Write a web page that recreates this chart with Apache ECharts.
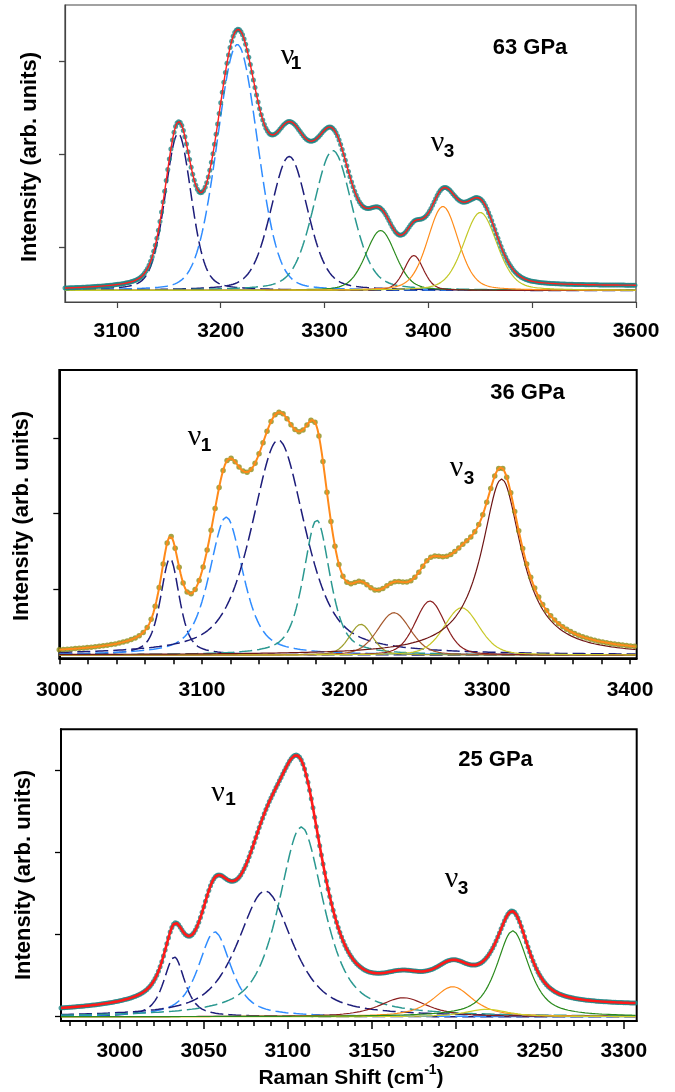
<!DOCTYPE html>
<html>
<head>
<meta charset="utf-8">
<script src="https://cdn.jsdelivr.net/npm/echarts@6/dist/echarts.min.js"></script>
<style>
  html, body { margin: 0; padding: 0; background: #ffffff; }
  #chart { width: 675px; height: 1092px; }
</style>
</head>
<body>
<div id="chart"></div>
<script>
// ---- Fitted Raman bands (peak centre cm-1, peak height in counts, FWHM cm-1, Lorentz fraction) ----
// 63 GPa
const p63Centers = [3159, 3216, 3266, 3308, 3354, 3386, 3414, 3450];
const p63Heights = [1688, 2645, 1441, 1505, 645, 376, 903, 839];
const p63Fwhm    = [30, 46, 42, 44, 34, 22, 35, 38];
const p63Eta     = [0.3, 0.15, 0.3, 0.3, 0.3, 0.3, 0.3, 0.3];
const p63Offset  = 540;          // flat offset under every band
const p63Slope   = [0, 43];      // extra sloping background of the total fit (start, end)
// 36 GPa
const p36Centers = [3077.6, 3117, 3153.5, 3180.4, 3211.4, 3234.6, 3259.8, 3282, 3310];
const p36Heights = [1284, 1833, 2855, 1793, 408, 562, 717, 628, 2337];
const p36Fwhm    = [15.7, 28, 44.5, 22, 19, 27, 24.5, 29, 34];
const p36Eta     = [0.6, 0.6, 0.6, 0.6, 0.3, 0.3, 0.3, 0.3, 1.0];
const p36Offset  = 123.5;
const p36Slope   = [0, 15];
// 25 GPa
const p25Centers = [3032.4, 3056.5, 3086.5, 3108, 3168.8, 3198.2, 3218.4, 3233.9];
const p25Heights = [729, 1033, 1531, 2309, 231, 365, 90, 1045];
const p25Fwhm    = [14.9, 23, 38.7, 32, 34, 28, 30, 22.8];
const p25Eta     = [0.7, 0.7, 0.7, 0.7, 0.7, 0.7, 0.7, 0.7];
const p25Offset  = 0;
const p25Slope   = [40, 120];

// ---- Axis ranges and tick labels ----
const p63XRange = [3050, 3600];
const p36XRange = [3000, 3404.7];
const p25XRange = [2965, 3307.7];
const p63YRange = [416, 3610];
const p36YRange = [79.7, 3908];
const p25YRange = [-52, 3494.5];
const p63XLabels = [3100, 3200, 3300, 3400, 3500, 3600];
const p36XLabels = [3000, 3100, 3200, 3300, 3400];
const p25XLabels = [3000, 3050, 3100, 3150, 3200, 3250, 3300];
const p63YTicks = [1000, 2000, 3000];
const p36YTicks = [1000, 2000, 3000];
const p25YTicks = [0, 1000, 2000, 3000];
const pressureLabels = ['63 GPa', '36 GPa', '25 GPa'];

// ---- Styles ----
const FONT = '"Liberation Sans", Arial, Helvetica, sans-serif';
const NU_FONT = '"Liberation Serif", "Times New Roman", serif';
const NAVY = '#1d1d7a', LBLUE = '#2f8cff', TEAL = '#2a9890';
const p63Colors = [NAVY, LBLUE, NAVY, TEAL, '#2a8a1c', '#8a1e1e', '#ff8c1a', '#c2c826'];
const p36Colors = [NAVY, LBLUE, NAVY, TEAL, '#9e9e2c', '#a5582c', '#8a1e1e', '#c8c828', '#6e1616'];
const p25Colors = [NAVY, LBLUE, NAVY, TEAL, '#8a1e1e', '#ff8c1a', '#cfcf2a', '#2a8a1c'];
const DASHED_COUNT = 4;   // the four nu1 bands are drawn dashed

function pseudoVoigt(x, c, h, fwhm, eta) {
  const r = (x - c) / (fwhm / 2);
  return h * (eta / (1 + r * r) + (1 - eta) * Math.exp(-Math.LN2 * r * r));
}

function sampleAxis(range, step) {
  const xs = [];
  for (let x = range[0]; x <= range[1] + 1e-9; x += step) xs.push(+x.toFixed(3));
  return xs;
}

function buildSeries(p, axisIdx, xAxisIdx) {
  const xs = sampleAxis(p.xRange, 1);
  const out = [];
  const n = p.centers.length;
  const comp = (x, i) => pseudoVoigt(x, p.centers[i], p.heights[i], p.fwhm[i], p.eta[i]);
  const slope = x => p.slope[0] + (p.slope[1] - p.slope[0]) * (x - p.xRange[0]) / (p.xRange[1] - p.xRange[0]);
  const total = x => { let s = p.offset + slope(x); for (let i = 0; i < n; i++) s += comp(x, i); return s; };

  for (let i = 0; i < n; i++) {
    const dashed = i < DASHED_COUNT;
    out.push({
      type: 'line', xAxisIndex: xAxisIdx, yAxisIndex: axisIdx,
      showSymbol: false, silent: true, z: 2,
      lineStyle: { color: p.colors[i], width: dashed ? 1.5 : 1.2, type: dashed ? [13, 5] : 'solid' },
      data: xs.map(x => [x, p.offset + comp(x, i)])
    });
  }
  const dotXs = sampleAxis(p.xRange, p.dotStep);
  out.push({
    type: 'scatter', xAxisIndex: xAxisIdx, yAxisIndex: axisIdx, silent: true, z: 3,
    symbolSize: p.dotSize, itemStyle: { color: p.dotColor },
    data: dotXs.map(x => [x, total(x)])
  });
  out.push({
    type: 'line', xAxisIndex: xAxisIdx, yAxisIndex: axisIdx,
    showSymbol: false, silent: true, z: 4,
    lineStyle: { color: p.fitColor, width: p.fitWidth },
    data: xs.map(x => [x, total(x)])
  });
  return out;
}

const panels = [
  { centers: p63Centers, heights: p63Heights, fwhm: p63Fwhm, eta: p63Eta, offset: p63Offset, slope: p63Slope,
    xRange: p63XRange, colors: p63Colors, dotStep: 1.5, dotSize: 5, dotColor: '#1f8585', fitColor: '#ff1f1f', fitWidth: 1.4 },
  { centers: p36Centers, heights: p36Heights, fwhm: p36Fwhm, eta: p36Eta, offset: p36Offset, slope: p36Slope,
    xRange: p36XRange, colors: p36Colors, dotStep: 2.8, dotSize: 5.5, dotColor: '#8c8c16', fitColor: '#ff8a1a', fitWidth: 2 },
  { centers: p25Centers, heights: p25Heights, fwhm: p25Fwhm, eta: p25Eta, offset: p25Offset, slope: p25Slope,
    xRange: p25XRange, colors: p25Colors, dotStep: 1, dotSize: 5, dotColor: '#1f8585', fitColor: '#ff1a1a', fitWidth: 2.6 }
];

const grids = [
  { left: 65, top: 5, width: 571, height: 297, show: true, borderColor: '#444', borderWidth: 1.2 },
  { left: 59.3, top: 370, width: 577.4, height: 288.3, show: true, borderColor: '#000', borderWidth: 2 },
  { left: 61, top: 729.3, width: 575.7, height: 291.7, show: true, borderColor: '#000', borderWidth: 2 }
];

function stepList(a, b, s) { const r = []; for (let v = a; v <= b + 1e-9; v += s) r.push(v); return r; }

const labelStyle = { fontFamily: FONT, fontWeight: 'bold', fontSize: 21, color: '#000', formatter: v => String(v) };

const xAxes = [
  { type: 'value', gridIndex: 0, position: 'bottom', min: p63XRange[0], max: p63XRange[1],
    axisLine: { show: true, onZero: false, lineStyle: { color: '#444', width: 1.2 } },
    axisTick: { show: true, length: 6, customValues: p63XLabels, lineStyle: { color: '#444', width: 1.2 } },
    axisLabel: Object.assign({ customValues: p63XLabels, margin: 19 }, labelStyle),
    splitLine: { show: false } },
  { type: 'value', gridIndex: 1, position: 'bottom', min: p36XRange[0], max: p36XRange[1],
    axisLine: { show: true, onZero: false, lineStyle: { color: '#000', width: 2 } },
    axisTick: { show: true, length: 6, customValues: stepList(3000, 3400, 20), lineStyle: { color: '#000', width: 1.5 } },
    axisLabel: Object.assign({ customValues: p36XLabels, margin: 21 }, labelStyle),
    splitLine: { show: false } },
  { type: 'value', gridIndex: 2, position: 'bottom', min: p25XRange[0], max: p25XRange[1],
    axisLine: { show: true, onZero: false, lineStyle: { color: '#000', width: 2 } },
    axisTick: { show: true, length: 5, customValues: stepList(2970, 3300, 10), lineStyle: { color: '#000', width: 1.5 } },
    axisLabel: { show: false },
    splitLine: { show: false } },
  { type: 'value', gridIndex: 2, position: 'bottom', offset: 0, min: p25XRange[0], max: p25XRange[1],
    axisLine: { show: false, onZero: false },
    axisTick: { show: true, length: 8, customValues: p25XLabels, lineStyle: { color: '#000', width: 1.5 } },
    axisLabel: Object.assign({ customValues: p25XLabels, margin: 20 }, labelStyle),
    splitLine: { show: false } }
];

function yAxis(grid, range, ticks, color, width) {
  return { type: 'value', gridIndex: grid, min: range[0], max: range[1],
    axisLine: { show: true, onZero: false, lineStyle: { color, width } },
    axisTick: { show: true, length: 6, customValues: ticks, lineStyle: { color, width: 1.3 } },
    axisLabel: { show: false }, splitLine: { show: false } };
}
const yAxes = [
  yAxis(0, p63YRange, p63YTicks, '#444', 1.2),
  yAxis(1, p36YRange, p36YTicks, '#000', 2),
  yAxis(2, p25YRange, p25YTicks, '#000', 2)
];

const series = [].concat(
  buildSeries(panels[0], 0, 0),
  buildSeries(panels[1], 1, 1),
  buildSeries(panels[2], 2, 2)
);

// ---- Text annotations ----
function txt(x, y, text, size, weight, extra, family) {
  return Object.assign({ type: 'text', x, y, z: 10, silent: true,
    style: { text, fontFamily: family || FONT, fontSize: size, fontWeight: weight, fill: '#000', align: 'center', verticalAlign: 'middle' } }, extra || {});
}
function nuLabel(nuX, nuBase, sub, subX, subBase) {
  return [
    txt(nuX, nuBase - 9, '\u03bd', 30, 'normal', null, NU_FONT),
    txt(subX, subBase - 6.5, sub, 19, 'bold')
  ];
}
function yTitle(x, y) {
  return txt(x, y, 'Intensity (arb. units)', 22, 'bold', { rotation: Math.PI / 2 });
}

const ctx = document.createElement('canvas').getContext('2d');
ctx.font = 'bold 21px ' + FONT;
const wMain = ctx.measureText('Raman Shift (cm').width;
const wClose = ctx.measureText(')').width;
ctx.font = 'bold 14px ' + FONT;
const wSup = ctx.measureText('-1').width;
const titleCx = 351, titleLeft = titleCx - (wMain + wSup + wClose) / 2;

const graphics = [].concat(
  [txt(530, 48, pressureLabels[0], 22, 'bold'), txt(527.5, 393, pressureLabels[1], 22, 'bold'), txt(495.5, 760, pressureLabels[2], 22, 'bold')],
  nuLabel(287.5, 65, '1', 296, 70),
  nuLabel(437.5, 152, '3', 449, 158),
  nuLabel(194.5, 446, '1', 206, 452),
  nuLabel(456.5, 477, '3', 469, 485),
  nuLabel(218, 802, '1', 230.5, 806),
  nuLabel(451.5, 888, '3', 463, 895),
  [yTitle(30, 157), yTitle(21.5, 516), yTitle(23.5, 875)],
  [
    { type: 'text', x: titleLeft, y: 1078, silent: true, style: { text: 'Raman Shift (cm', fontFamily: FONT, fontSize: 21, fontWeight: 'bold', fill: '#000', align: 'left', verticalAlign: 'middle' } },
    { type: 'text', x: titleLeft + wMain, y: 1070, silent: true, style: { text: '-1', fontFamily: FONT, fontSize: 14, fontWeight: 'bold', fill: '#000', align: 'left', verticalAlign: 'middle' } },
    { type: 'text', x: titleLeft + wMain + wSup, y: 1078, silent: true, style: { text: ')', fontFamily: FONT, fontSize: 21, fontWeight: 'bold', fill: '#000', align: 'left', verticalAlign: 'middle' } }
  ]
);

const chart = echarts.init(document.getElementById('chart'), null, { renderer: 'canvas' });
chart.setOption({
  animation: false,
  backgroundColor: '#ffffff',
  grid: grids,
  xAxis: xAxes,
  yAxis: yAxes,
  series: series,
  graphic: graphics
});
</script>
</body>
</html>
